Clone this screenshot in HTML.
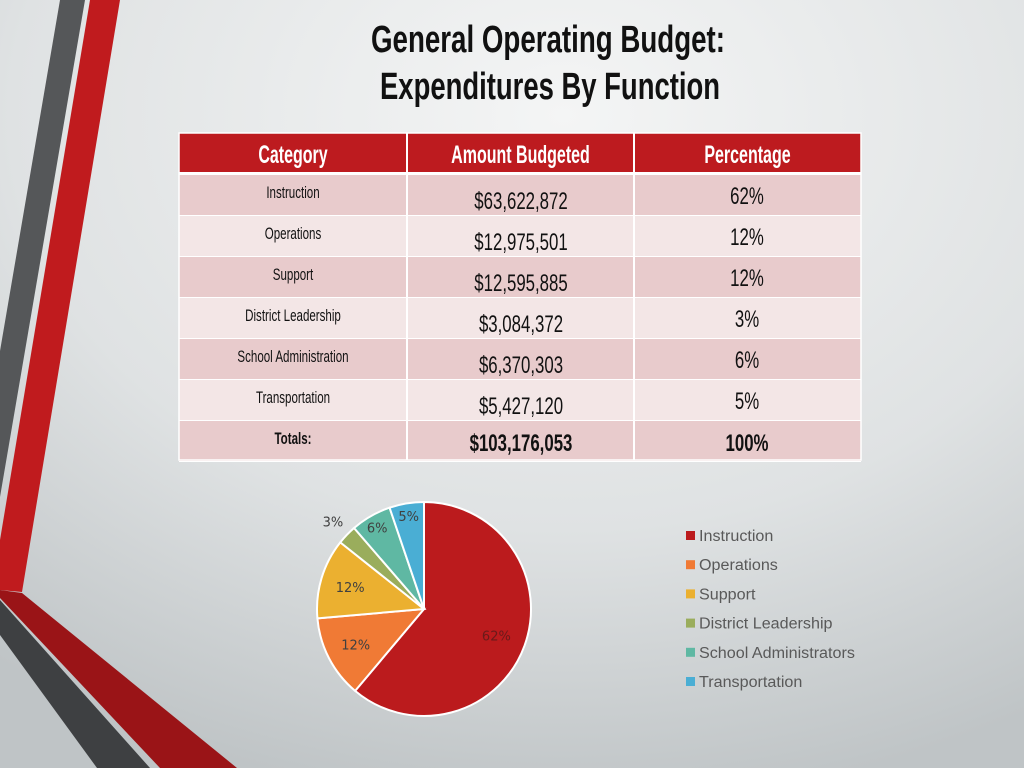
<!DOCTYPE html>
<html><head><meta charset="utf-8"><style>
body{margin:0;width:1024px;height:768px;overflow:hidden;}
svg{display:block;font-family:"Liberation Sans Narrow","Liberation Sans",sans-serif;}
</style></head><body>
<svg id="s" width="1024" height="768" viewBox="0 0 1024 768">
<defs>
<radialGradient id="bg" cx="0.55" cy="0.15" r="0.9">
<stop offset="0" stop-color="#f4f5f5"/><stop offset="0.6" stop-color="#dfe2e3"/><stop offset="1" stop-color="#bfc4c6"/>
</radialGradient>
</defs>
<rect width="1024" height="768" fill="url(#bg)"/>
<polygon points="60,0 85,0 0,497 0,351" fill="#555759"/>
<polygon points="90,0 120,0 22,592 0,590 0,540" fill="#c01b1e"/>
<polygon points="0,590 22,593 237,768 160,768 0,598" fill="#9a1417"/>
<polygon points="0,600 150,768 97,768 0,635" fill="#3e4042"/>
<text x="548" y="52" text-anchor="middle" font-size="38" font-weight="bold" textLength="354" lengthAdjust="spacingAndGlyphs" fill="#111">General Operating Budget:</text>
<text x="550" y="99" text-anchor="middle" font-size="38" font-weight="bold" textLength="340" lengthAdjust="spacingAndGlyphs" fill="#111">Expenditures By Function</text>
<g id="table"></g>
<g id="pie"></g>
<g id="legend"></g>
</svg>
<script>
const categories=["Instruction","Operations","Support","District Leadership","School Administration","Transportation"];
const amounts=[63622872,12975501,12595885,3084372,6370303,5427120];
const amountLabels=["$63,622,872","$12,975,501","$12,595,885","$3,084,372","$6,370,303","$5,427,120"];
const pctLabels=["62%","12%","12%","3%","6%","5%"];
const legendLabels=["Instruction","Operations","Support","District Leadership","School Administrators","Transportation"];
const colors=["#bb1b1d","#f07a35","#ebb030","#9aad5c","#5fb8a3","#4aaed4"];
const NS="http://www.w3.org/2000/svg";
function mk(tag,attrs,parent,txt){const e=document.createElementNS(NS,tag);for(const k in attrs)e.setAttribute(k,attrs[k]);if(txt!==undefined)e.textContent=txt;parent.appendChild(e);return e;}
function narrow(t,f){const l=t.getComputedTextLength();if(l>0){t.setAttribute('textLength',l*f);t.setAttribute('lengthAdjust','spacingAndGlyphs');}}
// table
const T=document.getElementById('table');
const cols=[179,407,634,861];
mk('rect',{x:179,y:133,width:682,height:39,fill:"#bd1b1f"},T);
["Category","Amount Budgeted","Percentage"].forEach((h,i)=>{
 const t=mk('text',{x:(cols[i]+cols[i+1])/2,y:163,'text-anchor':'middle','font-size':25,'font-weight':'bold',fill:'#fff'},T,h);
 
 narrow(t,0.64);
});
mk('rect',{x:179,y:172,width:682,height:3,fill:"#fff"},T);
const rowsCat=categories.concat(["Totals:"]);
const total=amounts.reduce((a,b)=>a+b,0);
const rowsAmt=amountLabels.concat(["$103,176,053"]);
const rowsPct=pctLabels.concat(["100%"]);
rowsCat.forEach((c,i)=>{
 const y=175+i*41;
 const r=mk('rect',{x:179,y:y,width:682,height:40,fill:i%2==0?"#e8cbcc":"#f3e6e6"},T);
 
 const b=i==6;
 const t1=mk('text',{x:293,y:y+23,'text-anchor':'middle','font-size':17,'font-weight':b?'bold':'normal',fill:'#111'},T,c);
 
 narrow(t1,0.68);
 const t2=mk('text',{x:521,y:y+(b?30:34),'text-anchor':'middle','font-size':24,'font-weight':b?'bold':'normal',fill:'#111'},T,rowsAmt[i]);
 
 narrow(t2,0.7);
 const t3=mk('text',{x:747,y:y+(b?30:29),'text-anchor':'middle','font-size':24,'font-weight':b?'bold':'normal',fill:'#111'},T,rowsPct[i]);
 
 narrow(t3,0.7);
});
[406,633].forEach(x=>mk('rect',{x:x,y:133,width:2,height:327,fill:'#fff'},T));
for(let i=0;i<=7;i++)mk('rect',{x:179,y:174+i*41,width:682,height:1,fill:'#fff'},T);
mk('rect',{x:179,y:133,width:682,height:327,fill:'none',stroke:'#fff','stroke-width':1.5},T);
// pie
const P=document.getElementById('pie');
const cx=424,cy=609,R=107;
let a0=0;
function pt(a,r){return [cx+r*Math.sin(a),cy-r*Math.cos(a)];}
amounts.forEach((v,i)=>{
 const a1=a0+v/total*2*Math.PI;
 const [x0,y0]=pt(a0,R),[x1,y1]=pt(a1,R);
 const p=mk('path',{d:`M${cx},${cy}L${x0},${y0}A${R},${R} 0 ${a1-a0>Math.PI?1:0} 1 ${x1},${y1}Z`,fill:colors[i],stroke:'#fff','stroke-width':2},P);
 
 const am=(a0+a1)/2;
 const rr=i==3?1.18:(i>=4?0.88:0.72);
 const [lx,ly]=pt(am,R*rr);
 const t=mk('text',{x:lx,y:ly+5,'text-anchor':'middle','font-family':'DejaVu Sans, sans-serif','font-size':13,fill:i==0?'#6a1a1a':'#404040'},P,pctLabels[i]);
 
 a0=a1;
});
// legend
const L=document.getElementById('legend');
legendLabels.forEach((l,i)=>{
 const y=536+i*29.2;
 const r=mk('rect',{x:686,y:y-5,width:9,height:9,fill:colors[i]},L);
 
 const t=mk('text',{x:699,y:y+5,'font-family':'Liberation Sans, sans-serif','font-size':15.5,fill:'#595959'},L,l);
 
 narrow(t,1.04);
});
</script>
</body></html>
